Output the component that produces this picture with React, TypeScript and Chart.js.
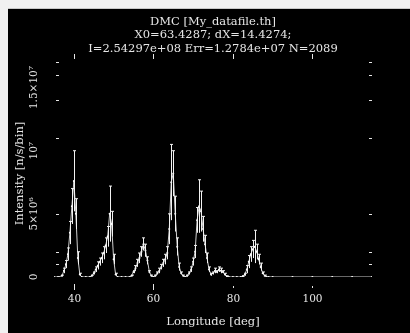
import React, { useEffect, useRef } from "react";
import { Chart, registerables } from "chart.js";

Chart.register(...registerables);

const titleLines = [
  "DMC [My_datafile.th]",
  "X0=63.4287; dX=14.4274;",
  "I=2.54297e+08 Err=1.2784e+07 N=2089",
];
const xTitle = "Longitude [deg]";
const yTitle = "Intensity [n/s/bin]";

const xTicks = [40, 60, 80, 100];
const yTickValues = [0, 5e6, 1e7, 1.5e7];
const yTickLabels = ["0", "5×10⁶", "10⁷", "1.5×10⁷"];
const yMinorMarks = [1e6, 2e6, 5e6, 1.1e7, 1.4e7, 1.6e7, 1.7e7];

const longitude = [
  35, 36, 37, 37.5, 38, 38.5, 39, 39.5, 40, 40.5, 41, 41.5, 42, 43, 44, 44.5,
  45, 45.5, 46, 46.5, 47, 47.5, 48, 48.5, 49, 49.5, 50, 50.5, 51, 52, 53, 54,
  54.5, 55, 55.5, 56, 56.5, 57, 57.5, 58, 58.5, 59, 59.5, 60, 60.5, 61, 61.5,
  62, 62.5, 63, 63.5, 64, 64.5, 65, 65.5, 66, 66.5, 67, 67.5, 68, 68.5, 69,
  69.5, 70, 70.5, 71, 71.5, 72, 72.5, 73, 73.5, 74, 74.5, 75, 75.5, 76, 76.5,
  77, 77.5, 78, 78.5, 79, 80, 81, 82, 82.5, 83, 83.5, 84, 84.5, 85, 85.5, 86,
  86.5, 87, 87.5, 88, 88.5, 89, 90, 95, 100, 105, 110, 115,
];

const intensity = [
  0, 0, 0.1e6, 0.5e6, 1.0e6, 1.8e6, 3.5e6, 5.6e6, 7.6e6, 5.0e6, 1.5e6, 0.2e6, 0, 0, 0, 0.1e6,
  0.3e6, 0.6e6, 0.9e6, 1.2e6, 1.5e6, 1.9e6, 2.5e6, 3.2e6, 5.0e6, 4.2e6, 1.4e6, 0.2e6, 0, 0, 0, 0,
  0.1e6, 0.4e6, 0.7e6, 1.1e6, 1.5e6, 2.0e6, 2.6e6, 2.1e6, 1.3e6, 0.4e6, 0.1e6, 0, 0.1e6, 0.3e6, 0.5e6,
  0.8e6, 1.1e6, 1.4e6, 1.9e6, 3.8e6, 7.5e6, 8.2e6, 5.0e6, 2.4e6, 0.8e6, 0.3e6, 0.1e6, 0, 0.1e6, 0.3e6,
  0.6e6, 1.2e6, 2.0e6, 4.5e6, 5.6e6, 5.2e6, 3.8e6, 2.6e6, 1.5e6, 0.6e6, 0.2e6, 0.3e6, 0.5e6, 0.4e6, 0.6e6,
  0.5e6, 0.4e6, 0.2e6, 0.05e6, 0, 0, 0, 0, 0.05e6, 0.2e6, 0.6e6, 1.2e6, 1.8e6, 2.2e6, 2.4e6, 2.0e6,
  1.4e6, 0.8e6, 0.3e6, 0.1e6, 0, 0, 0, 0, 0, 0, 0, 0,
];

const errors = [
  0, 0, 0.05e6, 0.2e6, 0.3e6, 0.5e6, 0.9e6, 1.4e6, 2.4e6, 1.2e6, 0.5e6, 0.1e6, 0, 0, 0, 0.05e6,
  0.1e6, 0.2e6, 0.3e6, 0.3e6, 0.4e6, 0.5e6, 0.6e6, 0.8e6, 2.2e6, 1.0e6, 0.4e6, 0.1e6, 0, 0, 0, 0,
  0.05e6, 0.1e6, 0.2e6, 0.3e6, 0.4e6, 0.4e6, 0.5e6, 0.5e6, 0.3e6, 0.1e6, 0.05e6, 0, 0.05e6, 0.1e6, 0.2e6,
  0.2e6, 0.3e6, 0.4e6, 0.5e6, 1.2e6, 3.0e6, 1.8e6, 1.4e6, 0.7e6, 0.3e6, 0.1e6, 0.05e6, 0, 0.05e6, 0.1e6,
  0.2e6, 0.3e6, 0.5e6, 1.0e6, 2.1e6, 1.6e6, 1.0e6, 0.7e6, 0.4e6, 0.2e6, 0.1e6, 0.1e6, 0.2e6, 0.1e6, 0.2e6,
  0.2e6, 0.1e6, 0.1e6, 0.03e6, 0, 0, 0, 0, 0.03e6, 0.1e6, 0.3e6, 0.5e6, 0.6e6, 0.7e6, 1.3e6, 0.6e6,
  0.4e6, 0.3e6, 0.1e6, 0.05e6, 0, 0, 0, 0, 0, 0, 0, 0,
];

const FG = "#e6e6e6";
const FONT = "'DejaVu Serif', 'Liberation Serif', serif";

const errorBarPlugin = {
  id: "errorBars",
  afterDatasetsDraw(chart: any) {
    const { ctx, scales } = chart;
    const xs = scales.x;
    const ys = scales.y;
    ctx.save();
    ctx.strokeStyle = "#f2f2f2";
    ctx.lineWidth = 1;
    for (let i = 0; i < longitude.length; i++) {
      const e = errors[i];
      if (!e) continue;
      const px = Math.round(xs.getPixelForValue(longitude[i])) + 0.5;
      const top = ys.getPixelForValue(intensity[i] + e);
      const bot = ys.getPixelForValue(Math.max(0, intensity[i] - e));
      ctx.beginPath();
      ctx.moveTo(px, bot);
      ctx.lineTo(px, top);
      ctx.moveTo(px - 1.5, top);
      ctx.lineTo(px + 1.5, top);
      ctx.stroke();
    }
    ctx.restore();
  },
};

const decorPlugin = {
  id: "decor",
  afterDraw(chart: any) {
    const { ctx, scales, chartArea } = chart;
    const xs = scales.x;
    const ys = scales.y;
    const cx = (chartArea.left + chartArea.right) / 2;
    ctx.save();
    ctx.fillStyle = FG;
    ctx.strokeStyle = FG;
    ctx.lineWidth = 1;
    // title
    ctx.font = `11.5px ${FONT}`;
    ctx.textAlign = "center";
    ctx.textBaseline = "middle";
    titleLines.forEach((t, i) => ctx.fillText(t, cx, 13 + i * 13.5));
    // x ticks and labels
    ctx.font = `10.5px ${FONT}`;
    xTicks.forEach((v, i) => {
      const px = Math.round(xs.getPixelForValue(v)) + 0.5;
      ctx.beginPath();
      if (i < 2) {
        ctx.moveTo(px, chartArea.bottom + 7);
        ctx.lineTo(px, chartArea.bottom + 13);
      } else {
        ctx.moveTo(px, chartArea.bottom + 9);
        ctx.lineTo(px, chartArea.bottom + 11);
      }
      ctx.stroke();
      ctx.fillText(String(v), px, chartArea.bottom + 22);
    });
    // top tick marks
    xTicks.forEach((v) => {
      const px = Math.round(xs.getPixelForValue(v)) + 0.5;
      ctx.beginPath();
      ctx.moveTo(px, chartArea.top - 2);
      ctx.lineTo(px, chartArea.top + 3);
      ctx.stroke();
    });
    // x title
    ctx.font = `11.5px ${FONT}`;
    ctx.fillText(xTitle, cx, chartArea.bottom + 45);
    // y minor marks left and right
    yMinorMarks.forEach((v) => {
      const py = Math.round(ys.getPixelForValue(v)) + 0.5;
      ctx.beginPath();
      ctx.moveTo(chartArea.left + 2, py);
      ctx.lineTo(chartArea.left + 5, py);
      ctx.moveTo(chartArea.right - 3, py);
      ctx.lineTo(chartArea.right, py);
      ctx.stroke();
    });
    // y tick labels (rotated)
    ctx.font = `10.5px ${FONT}`;
    yTickValues.forEach((v, i) => {
      const py = ys.getPixelForValue(v);
      ctx.save();
      ctx.translate(chartArea.left - 20, py);
      ctx.rotate(-Math.PI / 2);
      ctx.fillText(yTickLabels[i], 0, 0);
      ctx.restore();
    });
    // y title
    ctx.font = `11.5px ${FONT}`;
    ctx.save();
    ctx.translate(chartArea.left - 34, (chartArea.top + chartArea.bottom) / 2 + 7);
    ctx.rotate(-Math.PI / 2);
    ctx.fillText(yTitle, 0, 0);
    ctx.restore();
    ctx.restore();
  },
};

export default function App() {
  const ref = useRef<HTMLCanvasElement | null>(null);
  useEffect(() => {
    if (!ref.current) return;
    const chart = new Chart(ref.current, {
      type: "line",
      data: {
        datasets: [
          {
            data: longitude.map((x, i) => ({ x, y: intensity[i] })),
            borderColor: "#d0d0d0",
            borderWidth: 1,
            pointRadius: 1,
            pointBackgroundColor: "#ffffff",
            pointBorderWidth: 0,
            tension: 0,
            fill: false,
          },
        ],
      },
      options: {
        responsive: false,
        animation: false,
        devicePixelRatio: 1,
        layout: { padding: { left: 46, top: 47, right: 38, bottom: 56 } },
        plugins: { legend: { display: false }, tooltip: { enabled: false }, title: { display: false } },
        scales: {
          x: { type: "linear", min: 35, max: 115, display: false },
          y: { type: "linear", min: 0, max: 1.75e7, display: false },
        },
      },
      plugins: [errorBarPlugin, decorPlugin],
    });
    return () => chart.destroy();
  }, []);
  return (
    <>
      <div
        style={{
          position: "fixed",
          left: 0,
          top: 0,
          right: 0,
          bottom: 0,
          background: "#f1f1f1",
        }}
      />
      <div
        style={{
          position: "fixed",
          left: 8,
          top: 8,
          width: 402,
          height: 325,
          background: "#000",
          borderTop: "1px solid #c8c8c8",
          boxSizing: "border-box",
        }}
      >
        <canvas ref={ref} width={402} height={324} style={{ display: "block" }} />
      </div>
    </>
  );
}
